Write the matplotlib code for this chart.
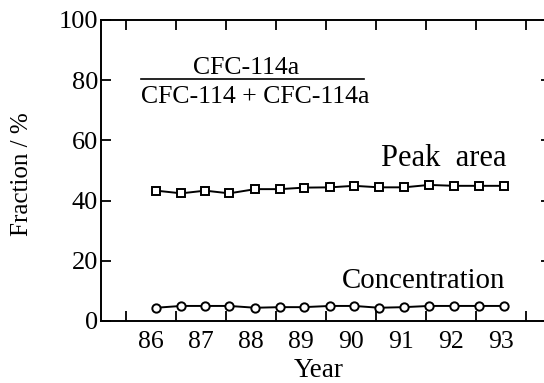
import matplotlib
matplotlib.use("Agg")
import matplotlib.pyplot as plt

plt.rcParams['font.family'] = ['Liberation Serif', 'DejaVu Serif']

# sampling dates (decimal year, 19xx)
years = [86.61, 87.11, 87.59, 88.07, 88.59, 89.09, 89.56, 90.09,
         90.57, 91.07, 91.57, 92.07, 92.57, 93.07, 93.57]
# fraction CFC-114a / (CFC-114 + CFC-114a), percent
peak_area = [43.3, 42.4, 43.3, 42.4, 43.8, 43.8, 44.3, 44.4,
             44.9, 44.4, 44.4, 45.2, 44.9, 44.9, 44.9]
concentration = [4.4, 5.0, 5.0, 5.0, 4.4, 4.6, 4.6, 5.0,
                 5.0, 4.4, 4.6, 5.0, 5.0, 5.0, 5.0]

year_ticks = [86, 87, 88, 89, 90, 91, 92, 93, 94]
year_labels = ['86', '87', '88', '89', '90', '91', '92', '93']
y_ticks = [0, 20, 40, 60, 80, 100]

fig = plt.figure(figsize=(5.44, 3.83), dpi=100)
ax = fig.add_axes([0.1851, 0.1619, 0.827, 0.786])

ax.plot(years, peak_area, color='black', lw=1.4, marker='s', ms=6,
        mfc='white', mec='black', mew=1.4)
ax.plot(years, concentration, color='black', lw=1.4, marker='o', ms=6,
        mfc='white', mec='black', mew=1.4)

ax.set_xlim(85.5, 94.5)
ax.set_ylim(0, 100)

ax.set_xticks(year_ticks)
ax.set_xticklabels([])
ax.set_xticks([y + 0.5 for y in year_ticks[:-1]], minor=True)
ax.set_xticklabels(year_labels, minor=True, fontsize=18.5)
ax.tick_params(axis='x', which='major', direction='in', length=7,
               width=1.3, top=True, bottom=True)
ax.tick_params(axis='x', which='minor', length=0, pad=7)

ax.set_yticks(y_ticks)
ax.set_yticklabels([str(v) for v in y_ticks], fontsize=19)
ax.tick_params(axis='y', direction='in', length=7, width=1.3,
               left=True, right=True, pad=2)

for sp in ax.spines.values():
    sp.set_linewidth(1.4)

ax.set_ylabel('Fraction / %', fontsize=18)
ax.yaxis.set_label_coords(-0.150, 0.488)
ax.text(0.485, -0.186, 'Year', transform=ax.transAxes, fontsize=19.5,
        ha='center', va='baseline')

# series labels
ax.text(93.62, 51.5, 'Peak  area', fontsize=22, ha='right', va='baseline')
ax.text(93.6, 11.0, 'Concentration', fontsize=20.8, ha='right', va='baseline')

# ratio legend
ax.text(88.4, 82.1, 'CFC-114a', fontsize=18.5, ha='center', va='baseline')
ax.plot([86.3, 90.77], [80.4, 80.4], color='black', lw=1.2)
ax.text(86.3, 72.4, 'CFC-114 + CFC-114a', fontsize=18.5, ha='left',
        va='baseline')

fig.savefig('out.png', dpi=100)
